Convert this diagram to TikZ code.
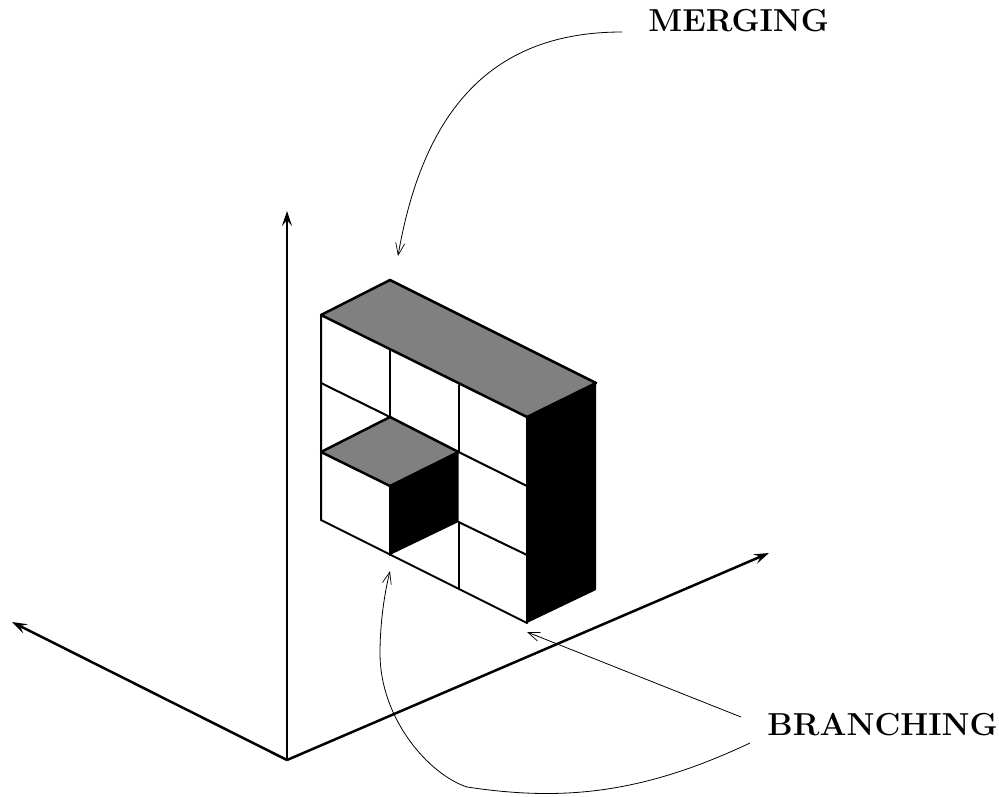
\documentclass[tikz,border=0pt]{standalone}
\usetikzlibrary{arrows.meta}
\tikzset{
  heavy/.style={line width=1pt,line cap=round,line join=round},
  thick edge/.style={line width=1.25pt,line cap=round,line join=round},
  axis/.style={line width=1.25pt,-{Stealth[length=7.5pt,width=5pt,inset=3pt]}},
  leader/.style={line width=0.4pt,-{Straight Barb[length=6pt,width=4.5pt,line width=0.35pt]}},
  lbl/.style={inner sep=0pt,font=\fontsize{15.9}{18}\selectfont\bfseries}
}
\begin{document}
\begin{tikzpicture}[x=0.5pt,y=-0.5pt]
\useasboundingbox (0,0) rectangle (999,796);
% vertices
\coordinate (O) at (287,760);
\coordinate (U) at (287,211);
\coordinate (L) at (12,622);
\coordinate (R) at (769,553);
\coordinate (a) at (321,315);
\coordinate (b) at (390,280);
\coordinate (c) at (596,383);
\coordinate (d) at (527,417);
\coordinate (e) at (596,590);
\coordinate (f) at (527,623);
\coordinate (g) at (321,520);
\coordinate (h) at (390,555);
\coordinate (i) at (321,452);
\coordinate (j) at (390,417);
\coordinate (k) at (458.5,452);
\coordinate (l) at (390,486);
\coordinate (m) at (458.5,522);
\coordinate (n) at (390,349);
\coordinate (p) at (458.5,385);
\coordinate (q) at (321,383);
\coordinate (r) at (527,486);
\coordinate (s) at (527,555);
\coordinate (t) at (458.5,589);
% faces
\fill[black] (d) -- (c) -- (e) -- (f) -- cycle;
\fill[black] (l) -- (k) -- (m) -- (h) -- cycle;
\draw[heavy] (a) -- (g) -- (f) -- (d);
\draw[heavy] (n) -- (j);
\draw[heavy] (p) -- (k);
\draw[heavy] (q) -- (j);
\draw[heavy] (k) -- (r);
\draw[heavy] (m) -- (s);
\draw[heavy] (m) -- (t);
\draw[heavy] (l) -- (h);
\draw[thick edge,fill={rgb,255:red,128;green,128;blue,128}] (a) -- (b) -- (c) -- (d) -- cycle;
\draw[thick edge,fill={rgb,255:red,128;green,128;blue,128}] (i) -- (j) -- (k) -- (l) -- cycle;
% axes
\draw[axis] (O) -- (U);
\draw[axis] (O) -- (L);
\draw[axis] (O) -- (R);
% labels
\node[lbl,anchor=base west] (merge) at (648,32) {MERGING};
\node[lbl,anchor=base west] (branch) at (767,735) {BRANCHING};
% leaders
\coordinate (m0) at (622,32);
\coordinate (m1) at (398,256);
\coordinate (b0) at (741,717);
\coordinate (b1) at (527,632);
\coordinate (c0) at (750,743);
\coordinate (c1) at (467,787);
\coordinate (c2) at (380,653);
\coordinate (c3) at (390,571);
\draw[leader] (m0) .. controls (500,32) and (425,100) .. (m1);
\draw[leader] (b0) -- (b1);
\draw[leader] (c0) .. controls (640,795) and (560,801) .. (c1) .. controls (430,775) and (380,720) .. (c2) .. controls (380,625) and (384,595) .. (c3);
\end{tikzpicture}
\end{document}
